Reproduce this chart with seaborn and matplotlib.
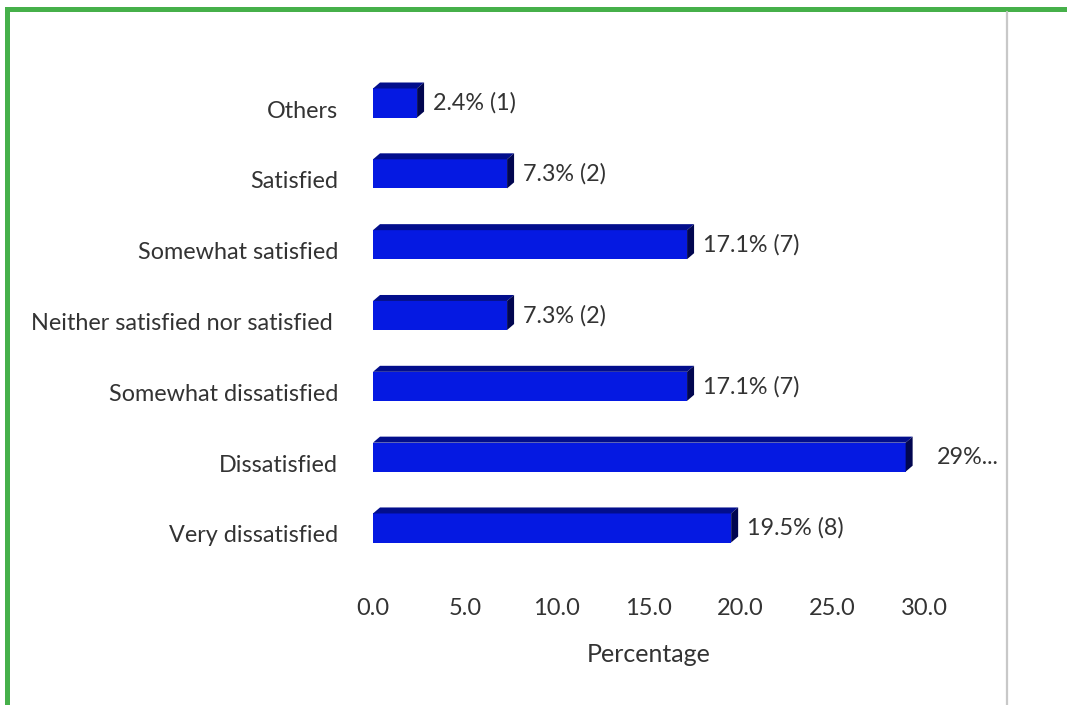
import matplotlib
matplotlib.use("Agg")
import matplotlib.pyplot as plt
from matplotlib.patches import Polygon, Rectangle
from matplotlib.lines import Line2D
import matplotlib.transforms as mtransforms
import seaborn as sns

# Survey responses: satisfaction levels, share of respondents (%) and counts
categories = [
    "Others",
    "Satisfied",
    "Somewhat satisfied",
    "Neither satisfied nor satisfied ",
    "Somewhat dissatisfied",
    "Dissatisfied",
    "Very dissatisfied",
]
percentages = [2.4, 7.3, 17.1, 7.3, 17.1, 29.0, 19.5]
value_labels = ["2.4% (1)", "7.3% (2)", "17.1% (7)", "7.3% (2)",
                "17.1% (7)", "29%...", "19.5% (8)"]
x_ticks = [0, 5, 10, 15, 20, 25, 30]
x_label = "Percentage"

FRONT = "#0519e2"
TOP = "#020e8c"
SIDE = "#010650"
TEXT = "#333333"
GREEN = "#46b04a"

sns.set_theme(style="white")
plt.rcParams["font.family"] = ["Lato", "DejaVu Sans"]

DPI = 100
W, H = 1067, 705
fig = plt.figure(figsize=(W / DPI, H / DPI), dpi=DPI)
fig.patch.set_facecolor("white")

# axes placed in pixel terms
ax_left, ax_right = 373, 924
ax_top, ax_bottom = 67.6, 563.4
ax = fig.add_axes([ax_left / W, 1 - ax_bottom / H,
                   (ax_right - ax_left) / W, (ax_bottom - ax_top) / H])

sns.barplot(x=percentages, y=categories, orient="h", color=FRONT,
            saturation=1, width=0.41, linewidth=0, ax=ax, zorder=3)

ax.set_xlim(0, 30)
ax.set_ylim(len(categories) - 0.5, -0.5)
ax.set_xticks(x_ticks)
ax.set_xticklabels([f"{t:.1f}" for t in x_ticks])
ax.set_xlabel(x_label, fontsize=18, color=TEXT, labelpad=17)
ax.set_ylabel("")
ax.tick_params(axis="x", length=0, pad=25, labelsize=17, labelcolor=TEXT)
ax.tick_params(axis="y", length=0, pad=25, labelsize=16.8, labelcolor=TEXT)
for s in ax.spines.values():
    s.set_visible(False)
ax.set_facecolor("none")

# push category labels slightly down
shift = mtransforms.ScaledTranslation(0, -6 / DPI, fig.dpi_scale_trans)
for lab in ax.get_yticklabels():
    lab.set_transform(lab.get_transform() + shift)

# depth of the pseudo-3D bars, converted from pixels to data units
inv = ax.transData.inverted()
origin = ax.transData.transform((0, 0))
dx_px, dy_px = 7, 6
p = inv.transform((origin[0] + dx_px, origin[1] + dy_px))
ddx, ddy = p[0], p[1]  # ddy negative (inverted y axis means up)

for bar in ax.patches[:len(categories)]:
    x0, y0 = bar.get_x(), bar.get_y()
    w, h = bar.get_width(), bar.get_height()
    top_y = y0  # upper edge on inverted axis
    bot_y = y0 + h
    top_face = Polygon([(x0, top_y), (x0 + w, top_y),
                        (x0 + w + ddx, top_y + ddy), (x0 + ddx, top_y + ddy)],
                       closed=True, facecolor=TOP, edgecolor="none", zorder=3)
    side_face = Polygon([(x0 + w, top_y), (x0 + w + ddx, top_y + ddy),
                         (x0 + w + ddx, bot_y + ddy), (x0 + w, bot_y)],
                        closed=True, facecolor=SIDE, edgecolor="none", zorder=3)
    ax.add_patch(top_face)
    ax.add_patch(side_face)

# value labels to the right of each bar
for i, (v, lab) in enumerate(zip(percentages, value_labels)):
    gap = 24 if lab.endswith("...") else 9
    ax.annotate(lab, xy=(v, i), xytext=((dx_px + gap) * 72 / DPI, 0),
                textcoords="offset points", ha="left", va="center",
                fontsize=16.8, color=TEXT, annotation_clip=False, zorder=4)

# frame decorations: green border top/left, grey divider on the right
fig.add_artist(Rectangle((5 / W, 0), 5 / W, 1 - 7 / H, transform=fig.transFigure,
                         facecolor=GREEN, edgecolor="none"))
fig.add_artist(Rectangle((5 / W, 1 - 12 / H), 1 - 5 / W, 5 / H,
                         transform=fig.transFigure, facecolor=GREEN, edgecolor="none"))
fig.add_artist(Line2D([1007 / W, 1007 / W], [0, 1 - 12 / H], transform=fig.transFigure,
                      color="#c8c8c8", linewidth=1.6))

fig.savefig("out.png", dpi=DPI)
